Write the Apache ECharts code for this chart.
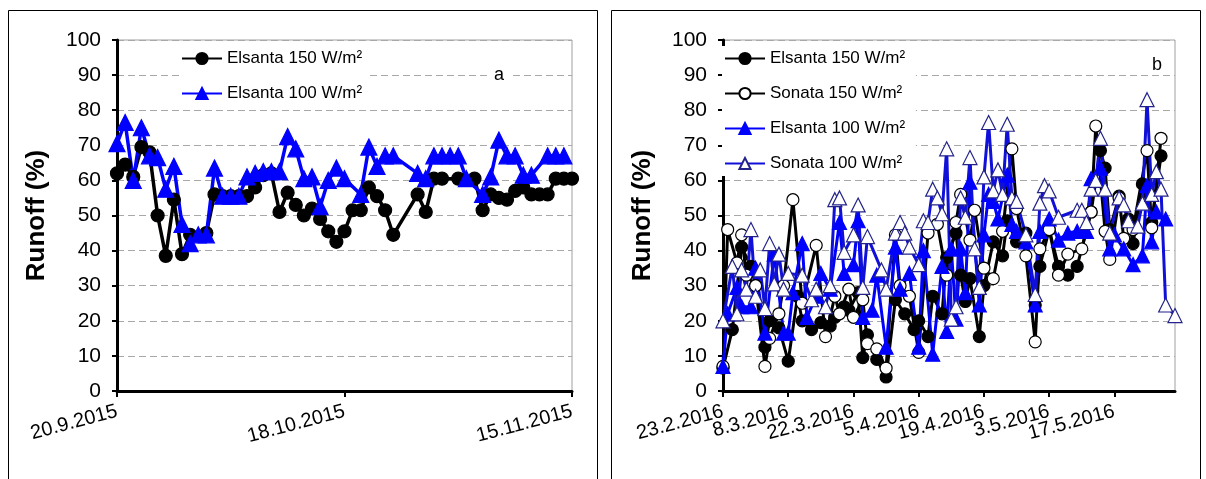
<!DOCTYPE html>
<html>
<head>
<meta charset="utf-8">
<script src="https://cdn.jsdelivr.net/npm/echarts@6/dist/echarts.min.js"></script>
<style>
  html, body { margin: 0; padding: 0; background: #fff; }
  #chart { width: 1206px; height: 479px; }
</style>
</head>
<body>
<div id="chart"></div>
<script>
// panel a - x is days since 20.9.2015
const aTickDays = [0, 28, 56]
const aTickLabels = ['20.9.2015', '18.10.2015', '15.11.2015']

const aE150Days = [0, 1, 2, 3, 4, 5, 6, 7, 8, 9, 11, 12, 13, 14, 15, 16, 17, 18, 19, 20, 21, 22, 23, 24, 25, 26, 27, 28, 29, 30,
  31, 32, 33, 34, 37, 38, 39, 40, 42, 44, 45, 46, 47, 48, 49, 50, 51, 52, 53, 54, 55, 56]
const aE150Vals = [62, 64.5, 61, 69.5, 68, 50, 38.5, 54.5, 39, 44.5, 45, 56, 55.5, 55.5, 55.5, 55.5, 58, 61.5, 62, 51, 56.5, 53, 50, 52, 49, 45.5, 42.5, 45.5, 51.5, 51.5,
  58, 55.5, 51.5, 44.5, 56, 51, 60.5, 60.5, 60.5, 60.5, 51.5, 56, 55, 54.5, 57, 58, 56, 56, 56, 60.5, 60.5, 60.5]

const aE100Days = [0, 1, 2, 3, 4, 5, 6, 7, 8, 9, 10, 11, 12, 13, 14, 15, 16, 17, 18, 19, 20, 21, 22, 23, 24, 25, 26, 27, 28, 30,
  31, 32, 33, 34, 37, 38, 39, 40, 41, 42, 43, 45, 46, 47, 48, 49, 50, 51, 53, 54, 55]
const aE100Vals = [70.5, 76.5, 60, 75, 67, 66.5, 57.5, 64, 47.5, 42, 44.5, 44.5, 63.5, 55.5, 55.5, 55.5, 61, 62, 62.5, 62.5, 62.5, 72.5, 69, 60.5, 61, 52.5, 60, 63.5, 60.5, 56,
  69.5, 64, 67, 67, 62, 60.5, 67, 67, 67, 67, 60.5, 56, 61, 71.5, 67, 67, 61.5, 61.5, 67, 67, 67]

// panel b - x is days since 23.2.2016
const bTickDays = [0, 14, 28, 42, 56, 70, 84]
const bTickLabels = ['23.2.2016', '8.3.2016', '22.3.2016', '5.4.2016', '19.4.2016', '3.5.2016', '17.5.2016']

const bE150Days = [0, 2, 4, 6, 7, 9, 10, 12, 14, 16, 17, 19, 21, 23, 24, 26, 27, 29, 30, 31, 33, 35, 37, 39, 41, 42, 44, 45, 47, 48,
  50, 51, 52, 53, 55, 56, 58, 60, 61, 63, 65, 67, 68, 70, 72, 74, 76, 79, 81, 82, 83, 85, 87, 88, 90, 92, 94]
const bE150Vals = [6.5, 17.5, 41, 35.5, 30, 12.5, 20, 18, 8.5, 27, 20, 17.5, 19.5, 18.5, 21, 24, 23, 28, 9.5, 16, 9, 4, 26, 22, 17.5, 20, 15.5, 27, 22, 38,
  45, 33, 25.5, 32, 15.5, 30, 42.5, 38.5, 48.5, 42.5, 45, 24.5, 35.5, 46, 35.5, 33, 35.5, 51, 68.5, 63.5, 46, 55.5, 49, 42, 59, 48, 67]

const bS150Days = [0, 1, 3, 4, 5, 7, 9, 10, 12, 13, 15, 17, 20, 22, 24, 25, 27, 28, 30, 31, 33, 35, 37, 38, 40, 42, 44, 46, 48, 50,
  51, 53, 54, 56, 58, 60, 62, 63, 65, 67, 68, 70, 72, 74, 77, 79, 80, 82, 83, 85, 86, 88, 91, 92, 94]
const bS150Vals = [7, 46, 36.5, 44.5, 33, 30, 7, 15, 22, 30, 54.5, 25, 41.5, 15.5, 27, 22, 29, 21, 26, 13.5, 12, 6.5, 44.5, 30, 27, 11, 45, 47.5, 33, 48,
  56, 43, 51.5, 35, 32, 45.5, 69, 52, 38.5, 14, 40.5, 46, 33, 39, 40.5, 51, 75.5, 45.5, 37.5, 55, 43.5, 46, 68.5, 46.5, 72]

const bE100Days = [0, 1, 3, 4, 6, 7, 9, 11, 13, 14, 15, 17, 18, 20, 21, 23, 25, 26, 28, 29, 30, 32, 33, 35, 37, 38, 40, 42, 43, 45,
  47, 48, 49, 50, 51, 52, 53, 55, 56, 57, 58, 59, 61, 62, 63, 65, 67, 68, 70, 72, 74, 76, 78, 79, 81, 83, 84, 86, 88, 90,
  91, 92, 93, 95]
const bE100Vals = [7, 22, 29.5, 24, 24, 35, 16.5, 39, 16.5, 16.5, 28, 42, 21, 27, 33.5, 29, 48, 33.5, 36, 48.5, 21, 23, 33, 12.5, 41, 29, 33.5, 12.5, 40, 10.5,
  35.5, 17, 40.5, 20.5, 40.5, 28, 59.5, 24.5, 44.5, 56, 54, 49, 61.5, 47.5, 45.5, 42.5, 24.5, 45.5, 49, 43, 45, 45.5, 45.5, 60.5, 63.5, 40.5, 44.5, 40.5, 36, 38.5,
  58.5, 42.5, 51, 49]

const bS100Days = [0, 2, 3, 4, 5, 6, 7, 8, 9, 10, 11, 12, 13, 14, 17, 19, 20, 22, 23, 24, 25, 26, 28, 29, 30, 31, 34, 35, 37, 38,
  39, 40, 42, 43, 44, 45, 46, 47, 48, 49, 50, 51, 52, 53, 54, 55, 56, 57, 58, 59, 60, 61, 62, 63, 65, 67, 68, 69, 70, 72,
  76, 77, 78, 79, 80, 81, 82, 83, 85, 86, 87, 89, 90, 91, 92, 93, 94, 95, 97]
const bS100Vals = [20, 35.5, 22, 34.5, 29, 46, 27, 34.5, 23.5, 42, 30.5, 39, 29, 33.5, 33, 26, 29, 24, 30, 54.5, 55, 39.5, 44.5, 53, 29.5, 44, 34.5, 29, 45, 48,
  45, 41, 36, 48.5, 48, 57.5, 55, 50.5, 69, 20.5, 24, 55, 49.5, 66.5, 40.5, 29.5, 61, 76.5, 57, 63, 56, 76, 55, 54, 44.5, 27.5, 53.5, 58.5, 57, 49.5,
  51.5, 51.5, 48, 57.5, 60, 72, 57.5, 45, 55, 53, 48.5, 47, 53.5, 83, 56, 62.5, 57.5, 24.5, 21.5]

const pairs = (days, vals) => days.map((d, i) => [d, vals[i]])

const FONT = 'Liberation Sans, Arial, sans-serif'

// labelDays: which of the tick days get their label on this axis
const makeX = (gridIndex, max, ticks, labels, labelDays, showLine) => ({
  type: 'value', gridIndex: gridIndex, position: 'bottom', offset: 0, min: 0, max: max, interval: ticks[1] - ticks[0],
  axisLine: {show: showLine, onZero: false, lineStyle: {color: '#000', width: 3}},
  axisTick: {show: showLine, inside: false, length: 6, lineStyle: {color: '#000', width: 2}, customValues: ticks},
  axisLabel: {
    rotate: 15, margin: 20, fontSize: 20, fontFamily: FONT, color: '#000', interval: 0,
    showMinLabel: true, showMaxLabel: true, hideOverlap: false,
    formatter: v => {
      const i = ticks.indexOf(v)
      return i >= 0 && labelDays.includes(v) ? labels[i] : ''
    }
  },
  splitLine: {show: false}
})

const makeY = (gridIndex) => ({
  type: 'value', gridIndex: gridIndex, position: 'left', min: 0, max: 100, interval: 10,
  name: 'Runoff (%)', nameLocation: 'middle', nameRotate: 90, nameGap: 67,
  nameTextStyle: {fontSize: 26, fontWeight: 'bold', fontFamily: FONT, color: '#000'},
  axisLine: {show: true, onZero: false, lineStyle: {color: '#000', width: 3}},
  axisTick: {show: true, inside: false, length: 5, lineStyle: {color: '#000', width: 2}},
  axisLabel: {fontSize: 21, fontFamily: FONT, color: '#000', margin: 16},
  splitLine: {show: true, lineStyle: {color: '#a8a8a8', width: 1, type: [7, 4]}}
})

const blackCircle = (name, idx, data, fill, size, lw) => ({
  name: name, type: 'line', xAxisIndex: idx, yAxisIndex: idx, data: data,
  symbol: 'circle', symbolSize: size,
  lineStyle: {color: '#000', width: lw},
  itemStyle: {color: fill, borderColor: '#000', borderWidth: 1.2},
  animation: false
})

const blueTriangle = (name, idx, data, fill, line, border, size, lw) => ({
  name: name, type: 'line', xAxisIndex: idx, yAxisIndex: idx, data: data,
  symbol: 'triangle', symbolSize: size,
  lineStyle: {color: line, width: lw},
  itemStyle: {color: fill, borderColor: border, borderWidth: 1.2},
  animation: false
})

const legendBase = {
  orient: 'vertical', itemWidth: 40, itemHeight: 14, itemGap: 18,
  backgroundColor: '#fff', padding: [4, 6, 4, 2],
  textStyle: {fontSize: 17, fontFamily: FONT, color: '#000'},
  selectedMode: false
}

const chart = echarts.init(document.getElementById('chart'), null, {renderer: 'canvas'})

chart.setOption({
  backgroundColor: '#fff',
  animation: false,
  grid: [
    {left: 117, right: 634, top: 40, bottom: 88, show: true, borderColor: '#a0a0a0', borderWidth: 1, backgroundColor: 'transparent'},
    {left: 723, right: 31, top: 40, bottom: 88, show: true, borderColor: '#a0a0a0', borderWidth: 1, backgroundColor: 'transparent'}
  ],
  xAxis: [
    makeX(0, 56, aTickDays, aTickLabels, aTickDays, true),
    // panel b labels overlap their neighbours, so every other one sits on a second, line-less axis
    makeX(1, 97, bTickDays, bTickLabels, bTickDays.filter((d, i) => i % 2 === 0), true),
    makeX(1, 97, bTickDays, bTickLabels, bTickDays.filter((d, i) => i % 2 === 1), false)
  ],
  yAxis: [makeY(0), makeY(1)],
  legend: [
    Object.assign({}, legendBase, {left: 179, top: 46, data: ['Elsanta 150 W/m²', 'Elsanta 100 W/m²']}),
    Object.assign({}, legendBase, {left: 722, top: 46,
      data: ['Elsanta 150 W/m² ', 'Sonata 150 W/m²', 'Elsanta 100 W/m² ', 'Sonata 100 W/m²']})
  ],
  graphic: [
    {type: 'rect', silent: true, z: -10, shape: {x: 8.5, y: 10.5, width: 589, height: 500},
      style: {fill: 'none', stroke: '#000', lineWidth: 1}},
    {type: 'rect', silent: true, z: -10, shape: {x: 611.5, y: 10.5, width: 589, height: 500},
      style: {fill: 'none', stroke: '#000', lineWidth: 1}},
    {type: 'text', z: 10, left: 489, top: 65,
      style: {text: 'a', fontSize: 18, fontFamily: FONT, fill: '#000', backgroundColor: '#fff', padding: [1, 5]}},
    {type: 'text', z: 10, left: 1147, top: 55,
      style: {text: 'b', fontSize: 18, fontFamily: FONT, fill: '#000', backgroundColor: '#fff', padding: [1, 5]}}
  ],
  series: [
    blackCircle('Elsanta 150 W/m²', 0, pairs(aE150Days, aE150Vals), '#000', 13, 3.5),
    blueTriangle('Elsanta 100 W/m²', 0, pairs(aE100Days, aE100Vals), '#0000ff', '#0000ff', '#0000ff', 16, 3.5),
    blackCircle('Elsanta 150 W/m² ', 1, pairs(bE150Days, bE150Vals), '#000', 12, 3),
    blackCircle('Sonata 150 W/m²', 1, pairs(bS150Days, bS150Vals), '#fff', 12, 3),
    blueTriangle('Elsanta 100 W/m² ', 1, pairs(bE100Days, bE100Vals), '#0000ff', '#0000ff', '#0000ff', 14, 3),
    blueTriangle('Sonata 100 W/m²', 1, pairs(bS100Days, bS100Vals), '#fff', '#1010d8', '#23238a', 14, 3)
  ]
})
</script>
</body>
</html>
